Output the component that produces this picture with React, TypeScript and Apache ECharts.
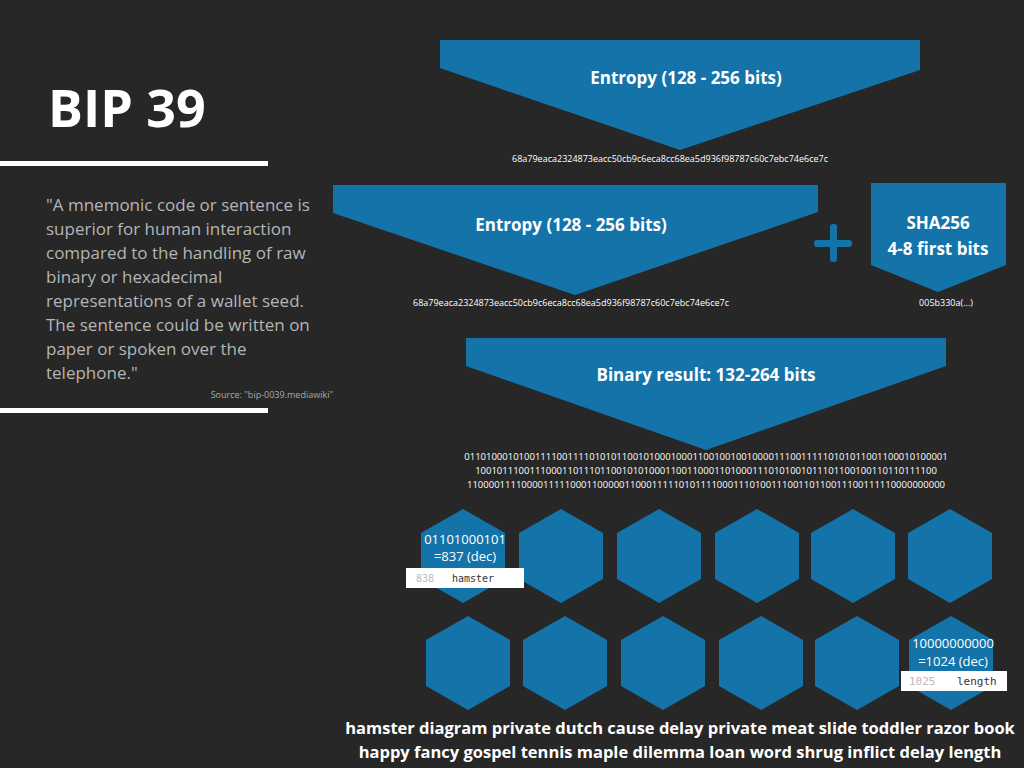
import React, { useEffect, useRef } from "react";
import * as echarts from "echarts";

const BLUE = "#1474aa";
const BG = "#272727";

const title = "BIP 39";
const quoteLines = [
  "\"A mnemonic code or sentence is",
  "superior for human interaction",
  "compared to the handling of raw",
  "binary or hexadecimal",
  "representations of a wallet seed.",
  "The sentence could be written on",
  "paper or spoken over the",
  "telephone.\"",
];
const source = "Source: \"bip-0039.mediawiki\"";
const entropyLabel = "Entropy (128 - 256 bits)";
const hexEntropy = "68a79eaca2324873eacc50cb9c6eca8cc68ea5d936f98787c60c7ebc74e6ce7c";
const shaLabel = ["SHA256", "4-8 first bits"];
const shaHex = "005b330a(...)";
const binaryLabel = "Binary result: 132-264 bits";
const binaryLines = [
  "0110100010100111100111101010110010100010001100100100100001110011111010101100110001010000 1",
  "1001011100111000110111011001010100011001100011010001110101001011101100100110110111100",
  "1100001111000011111000110000011000111110101111000111010011100110110011100111110000000000",
];
const firstBits = "01101000101";
const firstDec = "=837 (dec)";
const firstIdx = "838";
const firstWord = "hamster";
const lastBits = "10000000000";
const lastDec = "=1024 (dec)";
const lastIdx = "1025";
const lastWord = "length";
const mnemonic = [
  "hamster diagram private dutch cause delay private meat slide toddler razor book",
  "happy fancy gospel tennis maple dilemma loan word shrug inflict delay length",
];
const hexRow1X = [463, 561, 659, 757, 853, 950];
const hexRow2X = [468, 565, 663, 761, 857, 951];

const hexagon = (cx: number, cy: number) => ({
  type: "polygon",
  shape: {
    points: [
      [cx, cy - 47], [cx + 42, cy - 23], [cx + 42, cy + 23],
      [cx, cy + 47], [cx - 42, cy + 23], [cx - 42, cy - 23],
    ],
  },
  style: { fill: BLUE },
});

const txt = (x: number, y: number, text: string, size: number, extra: any = {}) => ({
  type: "text",
  x,
  y,
  style: {
    text,
    fill: "#fff",
    fontSize: size,
    fontFamily: "Open Sans",
    textAlign: "left",
    textVerticalAlign: "middle",
    ...extra,
  },
});

const App: React.FC = () => {
  const ref = useRef<HTMLDivElement>(null);

  useEffect(() => {
    if (!ref.current) return;
    const chart = echarts.init(ref.current, undefined, { renderer: "svg" });
    const els: any[] = [
      { type: "rect", shape: { x: 0, y: 0, width: 1024, height: 768 }, style: { fill: BG } },
      txt(48, 106, title, 52, { fontWeight: "bold" }),
      { type: "rect", shape: { x: 0, y: 161, width: 268, height: 5 }, style: { fill: "#fff" } },
      { type: "rect", shape: { x: 0, y: 408, width: 268, height: 5 }, style: { fill: "#fff" } },
      ...quoteLines.map((l, i) => txt(46, 204 + i * 24, l, 17, { fill: "#b5b5b5" })),
      txt(333, 394, source, 9, { fill: "#aaa", textAlign: "right" }),
      // top entropy
      { type: "polygon", shape: { points: [[440, 40], [920, 40], [920, 70], [680, 150], [440, 68]] }, style: { fill: BLUE } },
      txt(686, 77, entropyLabel, 17, { fontWeight: "bold", textAlign: "center" }),
      txt(670, 158, hexEntropy, 9, { textAlign: "center" }),
      // second entropy
      { type: "polygon", shape: { points: [[333, 185], [818, 185], [818, 212], [575, 295], [333, 213]] }, style: { fill: BLUE } },
      txt(571, 224, entropyLabel, 17, { fontWeight: "bold", textAlign: "center" }),
      txt(571, 302, hexEntropy, 9, { textAlign: "center" }),
      { type: "rect", shape: { x: 830, y: 224, width: 7, height: 38, r: 3 }, style: { fill: BLUE } },
      { type: "rect", shape: { x: 814, y: 240, width: 38, height: 7, r: 3 }, style: { fill: BLUE } },
      { type: "polygon", shape: { points: [[871, 183], [1006, 183], [1006, 265], [938, 292], [871, 265]] }, style: { fill: BLUE } },
      txt(938, 222, shaLabel[0], 17, { fontWeight: "bold", textAlign: "center" }),
      txt(938, 248, shaLabel[1], 17, { fontWeight: "bold", textAlign: "center" }),
      txt(946, 302, shaHex, 9, { textAlign: "center" }),
      // binary
      { type: "polygon", shape: { points: [[466, 338], [946, 338], [946, 366], [706, 450], [466, 366]] }, style: { fill: BLUE } },
      txt(706, 374, binaryLabel, 17, { fontWeight: "bold", textAlign: "center" }),
      ...binaryLines.map((l, i) => txt(706, 456 + i * 14, l.replace(" ", ""), 9.5, { textAlign: "center" })),
      ...hexRow1X.map((x) => hexagon(x, 556)),
      ...hexRow2X.map((x) => hexagon(x, 663)),
      txt(465, 539, firstBits, 13, { textAlign: "center" }),
      txt(465, 556, firstDec, 13, { textAlign: "center" }),
      { type: "rect", shape: { x: 406, y: 568, width: 118, height: 20 }, style: { fill: "#fff" } },
      txt(416, 578, firstIdx, 10, { fill: "#bbb", fontFamily: "DejaVu Sans Mono" }),
      txt(452, 578, firstWord, 10, { fill: "#333", fontFamily: "DejaVu Sans Mono" }),
      txt(953, 643, lastBits, 13, { textAlign: "center" }),
      txt(953, 661, lastDec, 13, { textAlign: "center" }),
      { type: "rect", shape: { x: 901, y: 671, width: 106, height: 20 }, style: { fill: "#fff" } },
      txt(909, 681, lastIdx, 11, { fill: "#bbb", fontFamily: "DejaVu Sans Mono" }),
      txt(957, 681, lastWord, 11, { fill: "#333", fontFamily: "DejaVu Sans Mono" }),
      ...mnemonic.map((l, i) => txt(680, 727 + i * 24, l, 16.5, { fontWeight: "bold", textAlign: "center" })),
    ];
    chart.setOption({ animation: false, graphic: { elements: els } });
    return () => chart.dispose();
  }, []);

  return <div ref={ref} style={{ width: 1024, height: 768, position: "absolute", left: 0, top: 0 }} />;
};

export default App;
